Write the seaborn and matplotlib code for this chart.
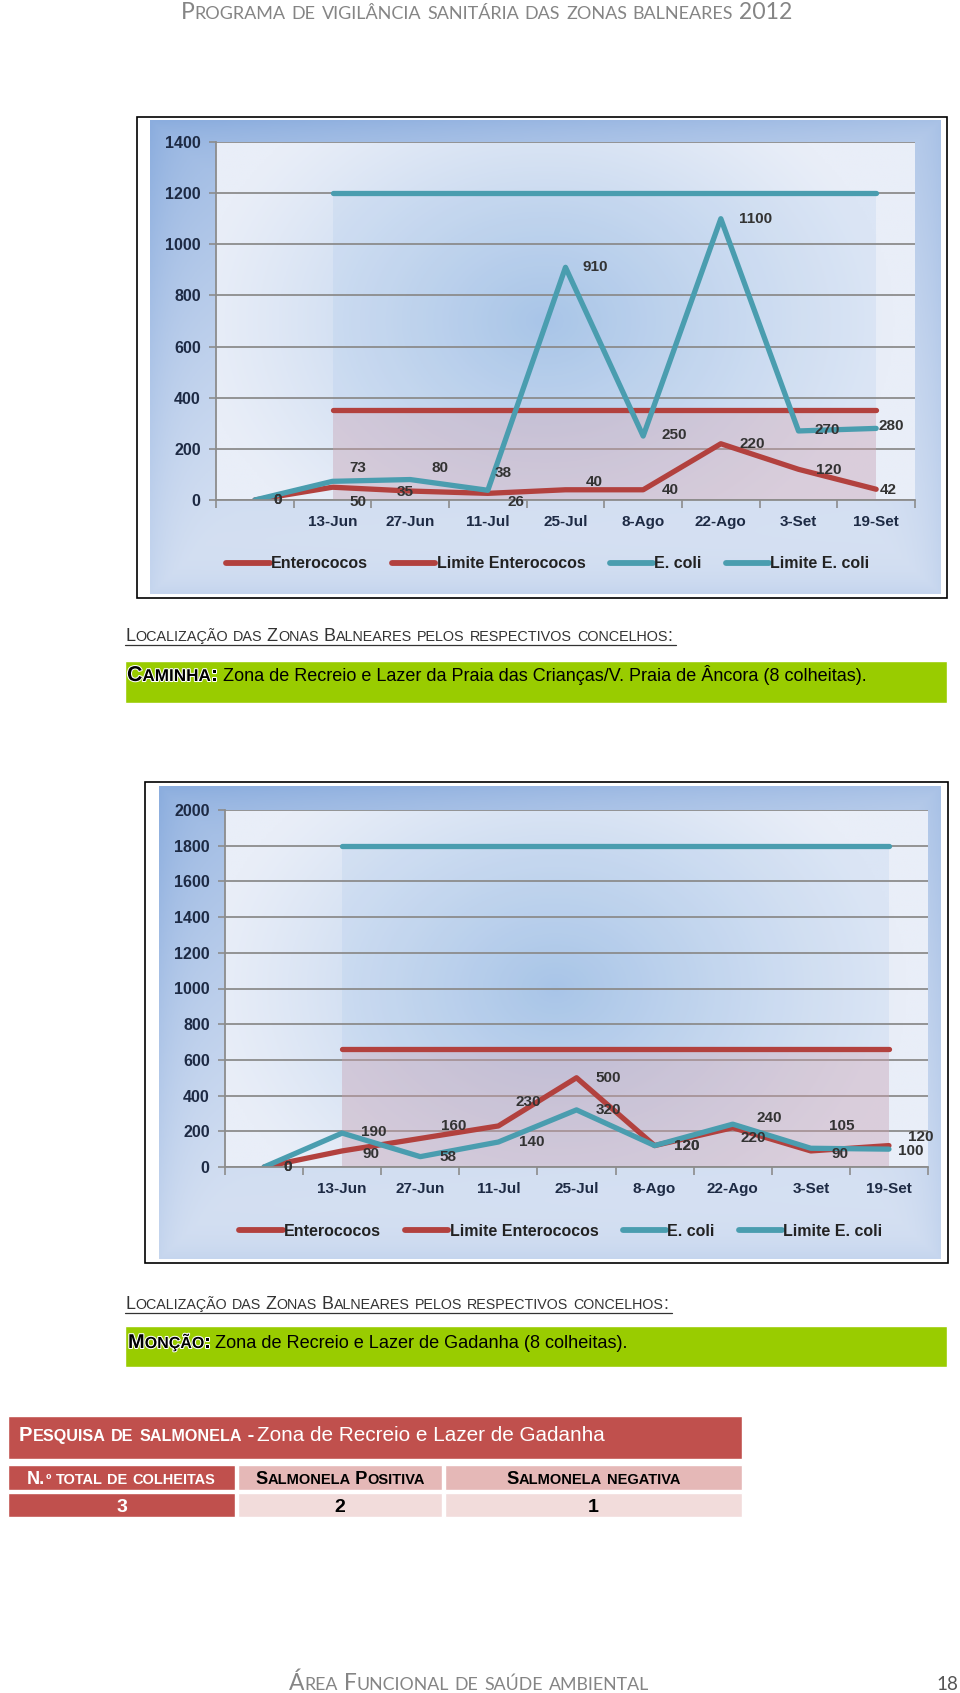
import matplotlib
matplotlib.use('Agg')
import matplotlib.pyplot as plt
import matplotlib.patheffects as pe
from matplotlib.patches import Rectangle
from matplotlib.lines import Line2D
from matplotlib.colors import to_rgb
import numpy as np
import pandas as pd
import seaborn as sns

sns.set_style("white")

# ---- data -------------------------------------------------------------
categories = ['', '13-Jun', '27-Jun', '11-Jul', '25-Jul', '8-Ago', '22-Ago', '3-Set', '19-Set']
series_names = ['Enterococos', 'Limite Enterococos', 'E. coli', 'Limite E. coli']

# Caminha
cam_enterococos = [0, 50, 35, 26, 40, 40, 220, 120, 42]
cam_ecoli = [0, 73, 80, 38, 910, 250, 1100, 270, 280]
cam_lim_ent = [np.nan, 350, 350, 350, 350, 350, 350, 350, 350]
cam_lim_ecoli = [np.nan, 1200, 1200, 1200, 1200, 1200, 1200, 1200, 1200]

# Moncao
mon_enterococos = [0, 90, 160, 230, 500, 120, 220, 90, 120]
mon_ecoli = [0, 190, 58, 140, 320, 120, 240, 105, 100]
mon_lim_ent = [np.nan, 660, 660, 660, 660, 660, 660, 660, 660]
mon_lim_ecoli = [np.nan, 1800, 1800, 1800, 1800, 1800, 1800, 1800, 1800]

# salmonela table
salm_headers = ['N.º total de colheitas', 'Salmonela Positiva', 'Salmonela negativa']
salm_values = ['3', '2', '1']

# data label nudges (pixels: right, up)
cam_ent_off = [(23, 0), (25, -15), (-5, -1), (28, -9), (29, 8), (27, 0), (31, 0), (30, -1), (12, -1)]
cam_eco_off = [(23, 0), (25, 13), (30, 12), (15, 17), (30, 0), (31, 1), (35, 0), (29, 1), (15, 2)]
mon_ent_off = [(24, 0), (29, -3), (33, 12), (30, 24), (32, 0), (32, 0), (21, -10), (29, -3), (32, 9)]
mon_eco_off = [(24, 0), (32, 1), (28, 0), (33, 0), (32, 0), (32, 0), (37, 6), (31, 22), (22, -2)]

# ---- style ------------------------------------------------------------
W, H = 960, 1693
RED = '#b2413e'
TEAL = '#4a9daf'
GRID = '#8c8c8c'
AXTXT = '#1d2a44'
LBL = '#333333'
CHART_FONT = ['Liberation Sans', 'DejaVu Sans']
NARROW = ['Liberation Sans Narrow', 'Liberation Sans', 'DejaVu Sans']
GREEN = '#99cc00'
TRED = '#c0504d'

fig = plt.figure(figsize=(W / 100, H / 100), dpi=100)
fig.patch.set_facecolor('white')
renderer = fig.canvas.get_renderer()


def fx(x):
    return x / W


def fy(y):
    return 1 - y / H


def px_axes(x0, y0, x1, y1, z=0):
    a = fig.add_axes([fx(x0), fy(y1), (x1 - x0) / W, (y1 - y0) / H])
    a.set_zorder(z)
    return a


def text_width(s, size, **kw):
    a = fig.text(0, 0, '|' + s + '|', size=size, **kw)
    b = fig.text(0, 0, '||', size=size, **kw)
    w = a.get_window_extent(renderer).width - b.get_window_extent(renderer).width
    a.remove()
    b.remove()
    return w


def small_caps(x, y, s, width, size=12, ha='left', ratio=0.78, **kw):
    runs = []
    for ch in s:
        small = ch.isalpha() and ch.islower()
        c = ch.upper() if small else ch
        if runs and runs[-1][1] == small:
            runs[-1][0] += c
        else:
            runs.append([c, small])

    def total(sz):
        return sum(text_width(r, sz * ratio if sm else sz, **kw) for r, sm in runs)

    size = size * width / total(size)
    x0 = x - width / 2 if ha == 'center' else x
    for r, sm in runs:
        sz = size * ratio if sm else size
        fig.text(fx(x0), fy(y), r, size=sz, va='baseline', ha='left', **kw)
        x0 += text_width(r, sz, **kw)
    return x0


def fit_text(x, y, s, width, size=12, ha='left', **kw):
    size = size * width / text_width(s, size, **kw)
    x0 = x - width / 2 if ha == 'center' else (x - width if ha == 'right' else x)
    fig.text(fx(x0), fy(y), s, size=size, va='baseline', ha='left', **kw)


def rect(x0, y0, x1, y1, color, z=-1, **kw):
    fig.add_artist(Rectangle((fx(x0), fy(y1)), (x1 - x0) / W, (y1 - y0) / H,
                             transform=fig.transFigure, facecolor=color, zorder=z, **kw))


def mix(c1, c2, t):
    return np.array(to_rgb(c1)) * (1 - t[..., None]) + np.array(to_rgb(c2)) * t[..., None]


def panel_img(h, w):
    v, u = np.mgrid[0:1:h * 1j, 0:1:w * 1j]
    d = np.minimum.reduce([u * w, (1 - u) * w, v * h, (1 - v) * h])
    t = 0.14 + 0.64 * (1 - v) ** 1.2 * (1 - 0.5 * u) + 0.22 * np.exp(-d / 10)
    return mix('#e6ecf7', '#8badde', np.clip(t, 0, 1))


def plot_img(h, w):
    v, u = np.mgrid[0:1:h * 1j, 0:1:w * 1j]
    r = np.sqrt(((u - 0.47) / 0.5) ** 2 + ((v - 0.5) / 0.75) ** 2)
    t = np.clip(1 - r, 0, 1) ** 1.2 * 0.9
    return mix('#e9eef8', '#a4c2e6', t)


def chart(box, panel, plot, ymax, ent, lim_ent, eco, lim_eco, off_ent, off_eco, leg):
    rect(*box, 'white', edgecolor='black', linewidth=1.2)
    pax = px_axes(*panel)
    pax.imshow(panel_img(200, 300), aspect='auto', extent=(0, 1, 0, 1))
    pax.axis('off')

    ax = px_axes(*plot, z=1)
    ax.imshow(plot_img(200, 300), aspect='auto', extent=(-0.5, 8.5, 0, ymax), zorder=0)
    pos = np.arange(len(categories))
    ax.fill_between(pos, 0, lim_eco, color='#9fc0e8', alpha=0.18, lw=0, zorder=0.5)
    ax.fill_between(pos, 0, lim_ent, color='#d9a3ad', alpha=0.35, lw=0, zorder=0.6)

    df = pd.DataFrame({
        'pos': np.tile(pos, 4),
        'valor': np.concatenate([ent, lim_ent, eco, lim_eco]),
        'serie': np.repeat(series_names, len(pos)),
    })
    sns.lineplot(data=df, x='pos', y='valor', hue='serie', hue_order=series_names,
                 palette=[RED, RED, TEAL, TEAL], linewidth=3.8, legend=False,
                 errorbar=None, sort=False, ax=ax)

    for vals, offs in ((ent, off_ent), (eco, off_eco)):
        for i, (v, (dx, dy)) in enumerate(zip(vals, offs)):
            ax.annotate(str(v), (i, v), xytext=(dx, dy), textcoords='offset pixels',
                        ha='center', va='center', fontsize=11, fontweight='bold',
                        color=LBL, family=CHART_FONT, annotation_clip=False, zorder=5)

    ax.set_xlim(-0.5, 8.5)
    ax.set_ylim(0, ymax)
    ax.set_xlabel('')
    ax.set_ylabel('')
    ax.set_xticks(pos)
    ax.set_xticklabels(categories)
    ax.set_xticks(np.arange(-0.5, 9, 1), minor=True)
    ax.set_yticks(np.arange(0, ymax + 1, 200))
    ax.tick_params(axis='x', which='major', length=0, pad=11, labelsize=11, labelcolor=AXTXT)
    ax.tick_params(axis='x', which='minor', bottom=True, length=6, width=1.2, color=GRID)
    ax.tick_params(axis='y', left=True, length=5, width=1.2, color=GRID, pad=6,
                   labelsize=11.5, labelcolor=AXTXT)
    for lab in ax.get_xticklabels() + ax.get_yticklabels():
        lab.set_fontweight('bold')
        lab.set_family(CHART_FONT)
    ax.grid(axis='y', color=GRID, lw=1.3, zorder=1)
    ax.grid(axis='x', visible=False)
    for s in ('top', 'right'):
        ax.spines[s].set_visible(False)
    for s in ('left', 'bottom'):
        ax.spines[s].set_color(GRID)
        ax.spines[s].set_linewidth(1.3)

    handles = [Line2D([], [], color=c, lw=4.2) for c in (RED, RED, TEAL, TEAL)]
    lg = ax.legend(handles, series_names, ncol=4, loc='center',
                   bbox_to_anchor=(fx(leg[0]), fy(leg[1])), bbox_transform=fig.transFigure,
                   frameon=False, handlelength=2.7, handletextpad=0.1, columnspacing=1.5,
                   prop=dict(family=CHART_FONT, weight='bold', size=11.5))
    for t in lg.get_texts():
        t.set_color('#222222')


# ---- header -----------------------------------------------------------
small_caps(181, 19, 'Programa de vigilância sanitária das zonas balneares 2012', 615,
           size=16, color='#858585', family=['Lato', 'DejaVu Sans'])

# ---- chart 1: Caminha ---------------------------------------------------
chart((137, 117, 947, 598), (150, 120, 941, 594), (216, 142, 915, 500), 1400,
      cam_enterococos, cam_lim_ent, cam_ecoli, cam_lim_ecoli, cam_ent_off, cam_eco_off,
      (548, 564))

heading = 'Localização das Zonas Balneares pelos respectivos concelhos:'
small_caps(125, 641, heading, 551, color='#333333', family=NARROW, ratio=0.8)
fig.add_artist(Line2D([fx(125), fx(676)], [fy(645), fy(645)], transform=fig.transFigure,
                      color='#333333', lw=0.9))
rect(125, 661, 947, 703, GREEN)
small_caps(127, 681, 'Caminha:', 91, color='black', family=NARROW, weight='bold', ratio=0.8,
           path_effects=[pe.withStroke(linewidth=1.5, foreground='white')])
fit_text(223, 681, 'Zona de Recreio e Lazer da Praia das Crianças/V. Praia de Âncora (8 colheitas).',
         650, size=14, color='black', family=NARROW)

# ---- chart 2: Moncao ----------------------------------------------------
chart((145, 782, 948, 1263), (159, 786, 940, 1259), (225, 810, 928, 1167), 2000,
      mon_enterococos, mon_lim_ent, mon_ecoli, mon_lim_ecoli, mon_ent_off, mon_eco_off,
      (561, 1231))

small_caps(125, 1309, heading, 547, color='#333333', family=NARROW, ratio=0.8)
fig.add_artist(Line2D([fx(125), fx(672)], [fy(1313), fy(1313)], transform=fig.transFigure,
                      color='#333333', lw=0.9))
rect(125, 1326, 947, 1367, GREEN)
small_caps(128, 1348, 'Monção:', 83, color='black', family=NARROW, weight='bold', ratio=0.8,
           path_effects=[pe.withStroke(linewidth=1.5, foreground='white')])
fit_text(215, 1348, 'Zona de Recreio e Lazer de Gadanha (8 colheitas).', 416, size=14,
         color='black', family=NARROW)

# ---- salmonela table ------------------------------------------------------
rect(8, 1416, 742, 1459, TRED)
small_caps(19, 1441, 'Pesquisa de salmonela -', 235, color='white', family=NARROW,
           weight='bold', ratio=0.8)
fit_text(257, 1441, 'Zona de Recreio e Lazer de Gadanha', 349, size=16, color='white',
         family=NARROW)

cols = [(8, 235), (238, 442), (445, 742)]
head_w = [189, 170, 174]
row1_bg = [TRED, '#e5b8b7', '#e5b8b7']
row2_bg = [TRED, '#f2dcdb', '#f2dcdb']
txt_c = ['white', 'black', 'black']
for (c0, c1), hw, b1, b2, tc, hd, val in zip(cols, head_w, row1_bg, row2_bg, txt_c,
                                              salm_headers, salm_values):
    rect(c0, 1465, c1, 1490, b1)
    rect(c0, 1493, c1, 1517, b2)
    small_caps((c0 + c1) / 2, 1484, hd, hw, ha='center', color=tc, family=NARROW,
               weight='bold', ratio=0.8)
    fig.text(fx((c0 + c1) / 2), fy(1512), val, ha='center', va='baseline', color=tc,
             family=NARROW, weight='bold', size=14)

# ---- footer -------------------------------------------------------------
small_caps(289, 1690, 'Área Funcional de saúde ambiental', 361, size=16, color='#858585',
           family=['Lato', 'DejaVu Sans'])
fit_text(958, 1690, '18', 22, size=16, ha='right', color='#555555', family=['Lato', 'DejaVu Sans'])

fig.savefig('out.png', dpi=100, facecolor='white')
